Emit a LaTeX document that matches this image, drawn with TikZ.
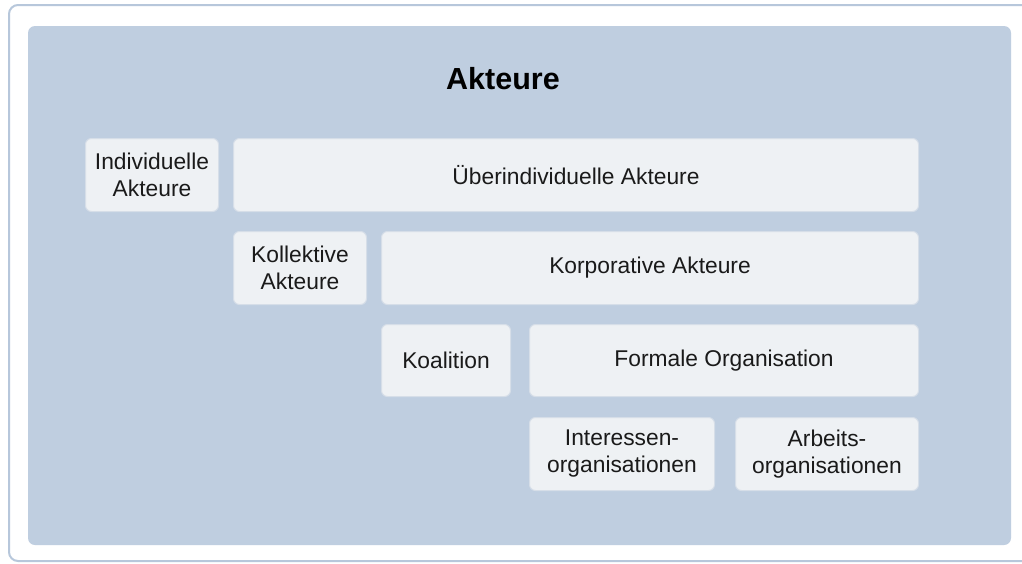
\documentclass[tikz,border=0pt]{standalone}
\usepackage{fontspec}
\setmainfont{Liberation Sans}
\definecolor{frameblue}{HTML}{B7C7DB}
\definecolor{panelblue}{HTML}{BFCEE0}
\definecolor{boxfill}{HTML}{EEF1F4}
\definecolor{boxline}{HTML}{D6DEE8}
\definecolor{textcol}{HTML}{1A1A1A}
\begin{document}
\begin{tikzpicture}[x=1pt,y=-1pt,
  box/.style={draw=boxline, line width=1pt, fill=boxfill, rounded corners=6pt,
    anchor=north west, inner sep=0pt, align=center, text=textcol,
    font=\fontsize{22.8}{27}\selectfont},
  title/.style={font=\fontsize{30.5}{36}\selectfont\bfseries, text=black}]
\useasboundingbox (0,0) rectangle (1022,563);
\fill[white] (0,0) rectangle (1022,563);
\draw[frameblue, line width=2pt, fill=white, rounded corners=9pt] (9,5) rectangle (1040,561);
\fill[panelblue, rounded corners=7pt] (28,26) rectangle (1011,545);
\node[title] (t) at (503,79) {Akteure};
\node[box, minimum width=133pt, minimum height=73pt] (ind) at (85,138) {Individuelle\\Akteure};
\node[box, minimum width=685pt, minimum height=73pt] (ueb) at (233,138) {Überindividuelle Akteure};
\node[box, minimum width=133pt, minimum height=73pt] (kol) at (233,231) {Kollektive\\Akteure};
\node[box, minimum width=537pt, minimum height=73pt] (kor) at (381,231) {Korporative Akteure};
\node[box, minimum width=129pt, minimum height=72pt] (koa) at (381,324) {Koalition};
\node[box, minimum width=389pt, minimum height=72pt] (for) at (529,324) {Formale Organisation};
\node[box, minimum width=185pt, minimum height=73pt] (int) at (529,417) {Interessen-\\organisationen};
\node[box, minimum width=183pt, minimum height=73pt] (arb) at (735,417) {Arbeits-\\organisationen};
\end{tikzpicture}
\end{document}
